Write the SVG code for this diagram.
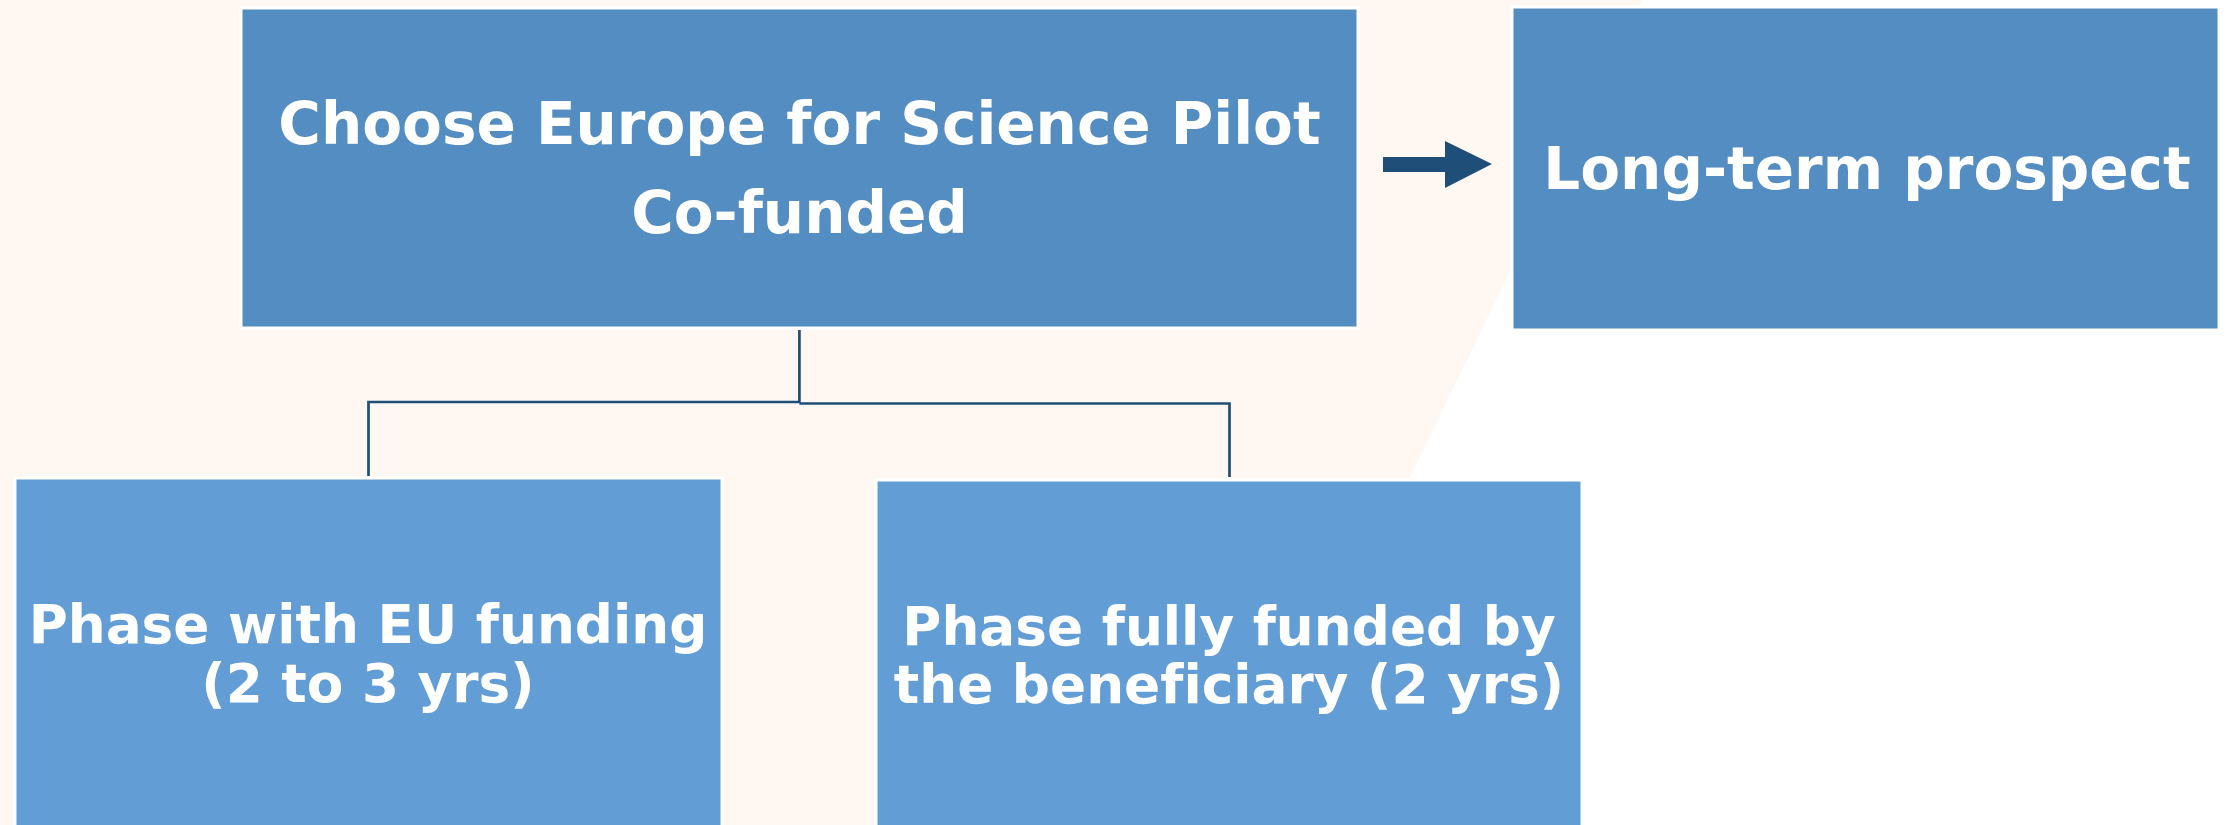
<svg xmlns="http://www.w3.org/2000/svg" width="2233" height="825" viewBox="0 0 2233 825">
<style>
.box1{fill:#548dc1;stroke:#ffffff;stroke-width:3}
.box2{fill:#629dd5;stroke:#ffffff;stroke-width:3}
.t{font-family:"DejaVu Sans",Verdana,sans-serif;font-weight:bold;fill:#ffffff;text-anchor:middle;font-variant-ligatures:none}
.big{font-size:58px}
.small{font-size:53.3px}
.conn{fill:none;stroke:#1f4e79;stroke-width:2.7}
</style>
<rect x="0" y="0" width="2233" height="825" fill="#ffffff"/>
<polygon points="0,0 1642,0 1241,825 0,825" fill="#fff8f2"/>
<g id="node-pilot">
<rect class="box1" x="241" y="8" width="1117" height="320"/>
<text class="t big" x="799.5" y="144">Choose Europe for Science Pilot</text>
<text class="t big" x="799.5" y="233">Co-funded</text>
</g>
<g id="node-longterm">
<rect class="box1" x="1512" y="7" width="707" height="323"/>
<text class="t big" x="1867" y="189">Long-term prospect</text>
</g>
<g id="node-eu">
<rect class="box2" x="15" y="478" width="707" height="360"/>
<text class="t small" x="368" y="643">Phase with EU funding</text>
<text class="t small" x="368" y="702">(2 to 3 yrs)</text>
</g>
<g id="node-beneficiary">
<rect class="box2" x="876" y="480" width="706" height="360"/>
<text class="t small" x="1229" y="645">Phase fully funded by</text>
<text class="t small" x="1229" y="703">the beneficiary (2 yrs)</text>
</g>
<g id="connectors">
<path class="conn" d="M799.4,330 V402 H368.5 V476"/>
<path class="conn" d="M799.4,403.5 H1229.5 V477"/>
<polygon points="1383,157 1445,157 1445,141 1492,164 1445,188 1445,172 1383,172" fill="#1f4e79"/>
</g>
</svg>
